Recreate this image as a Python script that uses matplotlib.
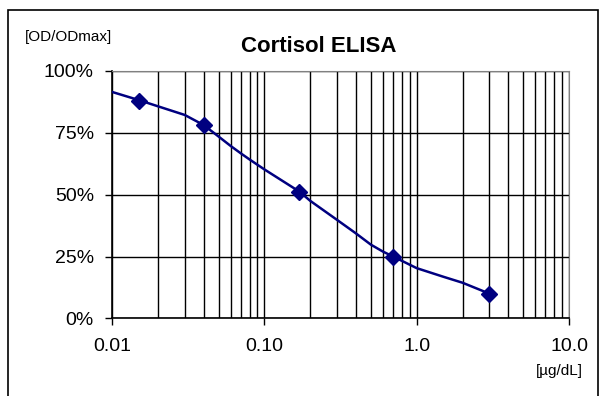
import numpy as np
import matplotlib
matplotlib.use("Agg")
import matplotlib.pyplot as plt
from matplotlib.ticker import FixedLocator, FixedFormatter, LogLocator, NullFormatter
from matplotlib.patches import Rectangle

plt.rcParams['font.family'] = ['Liberation Sans', 'DejaVu Sans']

# standards (ug/dL) and OD/ODmax
conc = [0.015, 0.04, 0.17, 0.7, 3.0]
od = [0.88, 0.78, 0.51, 0.25, 0.10]

# fitted curve
curve_x = [0.01, 0.015, 0.02, 0.03, 0.04, 0.05, 0.06, 0.07, 0.08, 0.1, 0.17, 0.2,
           0.3, 0.4, 0.5, 0.6, 0.7, 1.0, 1.5, 2.0, 3.0]
curve_y = [0.915, 0.882, 0.857, 0.822, 0.781, 0.735, 0.697, 0.667, 0.642, 0.602, 0.512, 0.475,
           0.398, 0.343, 0.298, 0.270, 0.250, 0.203, 0.168, 0.144, 0.10]

xticks = [0.01, 0.1, 1.0, 10.0]
xlabels = ["0.01", "0.10", "1.0", "10.0"]
yticks = [0, 0.25, 0.5, 0.75, 1.0]
ylabels = ["0%", "25%", "50%", "75%", "100%"]

navy = "#000080"

fig = plt.figure(figsize=(6.01, 3.96), dpi=100)
ax = fig.add_axes([0.1864, 0.196, 0.7604, 0.625])

ax.plot(curve_x, curve_y, color=navy, lw=1.8, zorder=3, solid_joinstyle="round")
ax.plot(conc, od, ls="none", marker="D", ms=8, color=navy, zorder=4)

ax.set_xscale("log")
ax.set_xlim(0.01, 10)
ax.set_ylim(0, 1)
ax.xaxis.set_major_locator(FixedLocator(xticks))
ax.xaxis.set_major_formatter(FixedFormatter(xlabels))
ax.xaxis.set_minor_locator(LogLocator(base=10, subs=np.arange(2, 10)))
ax.xaxis.set_minor_formatter(NullFormatter())
ax.set_yticks(yticks)
ax.set_yticklabels(ylabels)

ax.grid(which="both", axis="x", color="black", lw=1)
ax.grid(which="major", axis="y", color="black", lw=1)
ax.tick_params(axis="both", which="major", direction="out", length=5, width=1,
               labelsize=14, color="black")
ax.tick_params(axis="y", pad=8)
ax.tick_params(axis="x", pad=9)
ax.tick_params(axis="x", which="minor", length=0)
for s in ["top", "right"]:
    ax.spines[s].set_color("#808080")
for s in ["left", "bottom"]:
    ax.spines[s].set_color("black")
    ax.spines[s].set_linewidth(1.2)

fig.text(318.5 / 601, 1 - 46 / 396, "Cortisol ELISA", fontsize=16, fontweight="bold",
         ha="center", va="center")
fig.text(25 / 601, 1 - 36.5 / 396, "[OD/ODmax]", fontsize=11, va="center", ha="left")
fig.text(583 / 601, 1 - 371 / 396, "[µg/dL]", fontsize=11, va="center", ha="right")

fig.add_artist(Rectangle((8 / 601, -0.1), 590 / 601, 1.1 - 10 / 396, transform=fig.transFigure,
                         fill=False, edgecolor="black", lw=1.2))

fig.savefig("out.png", dpi=100)
